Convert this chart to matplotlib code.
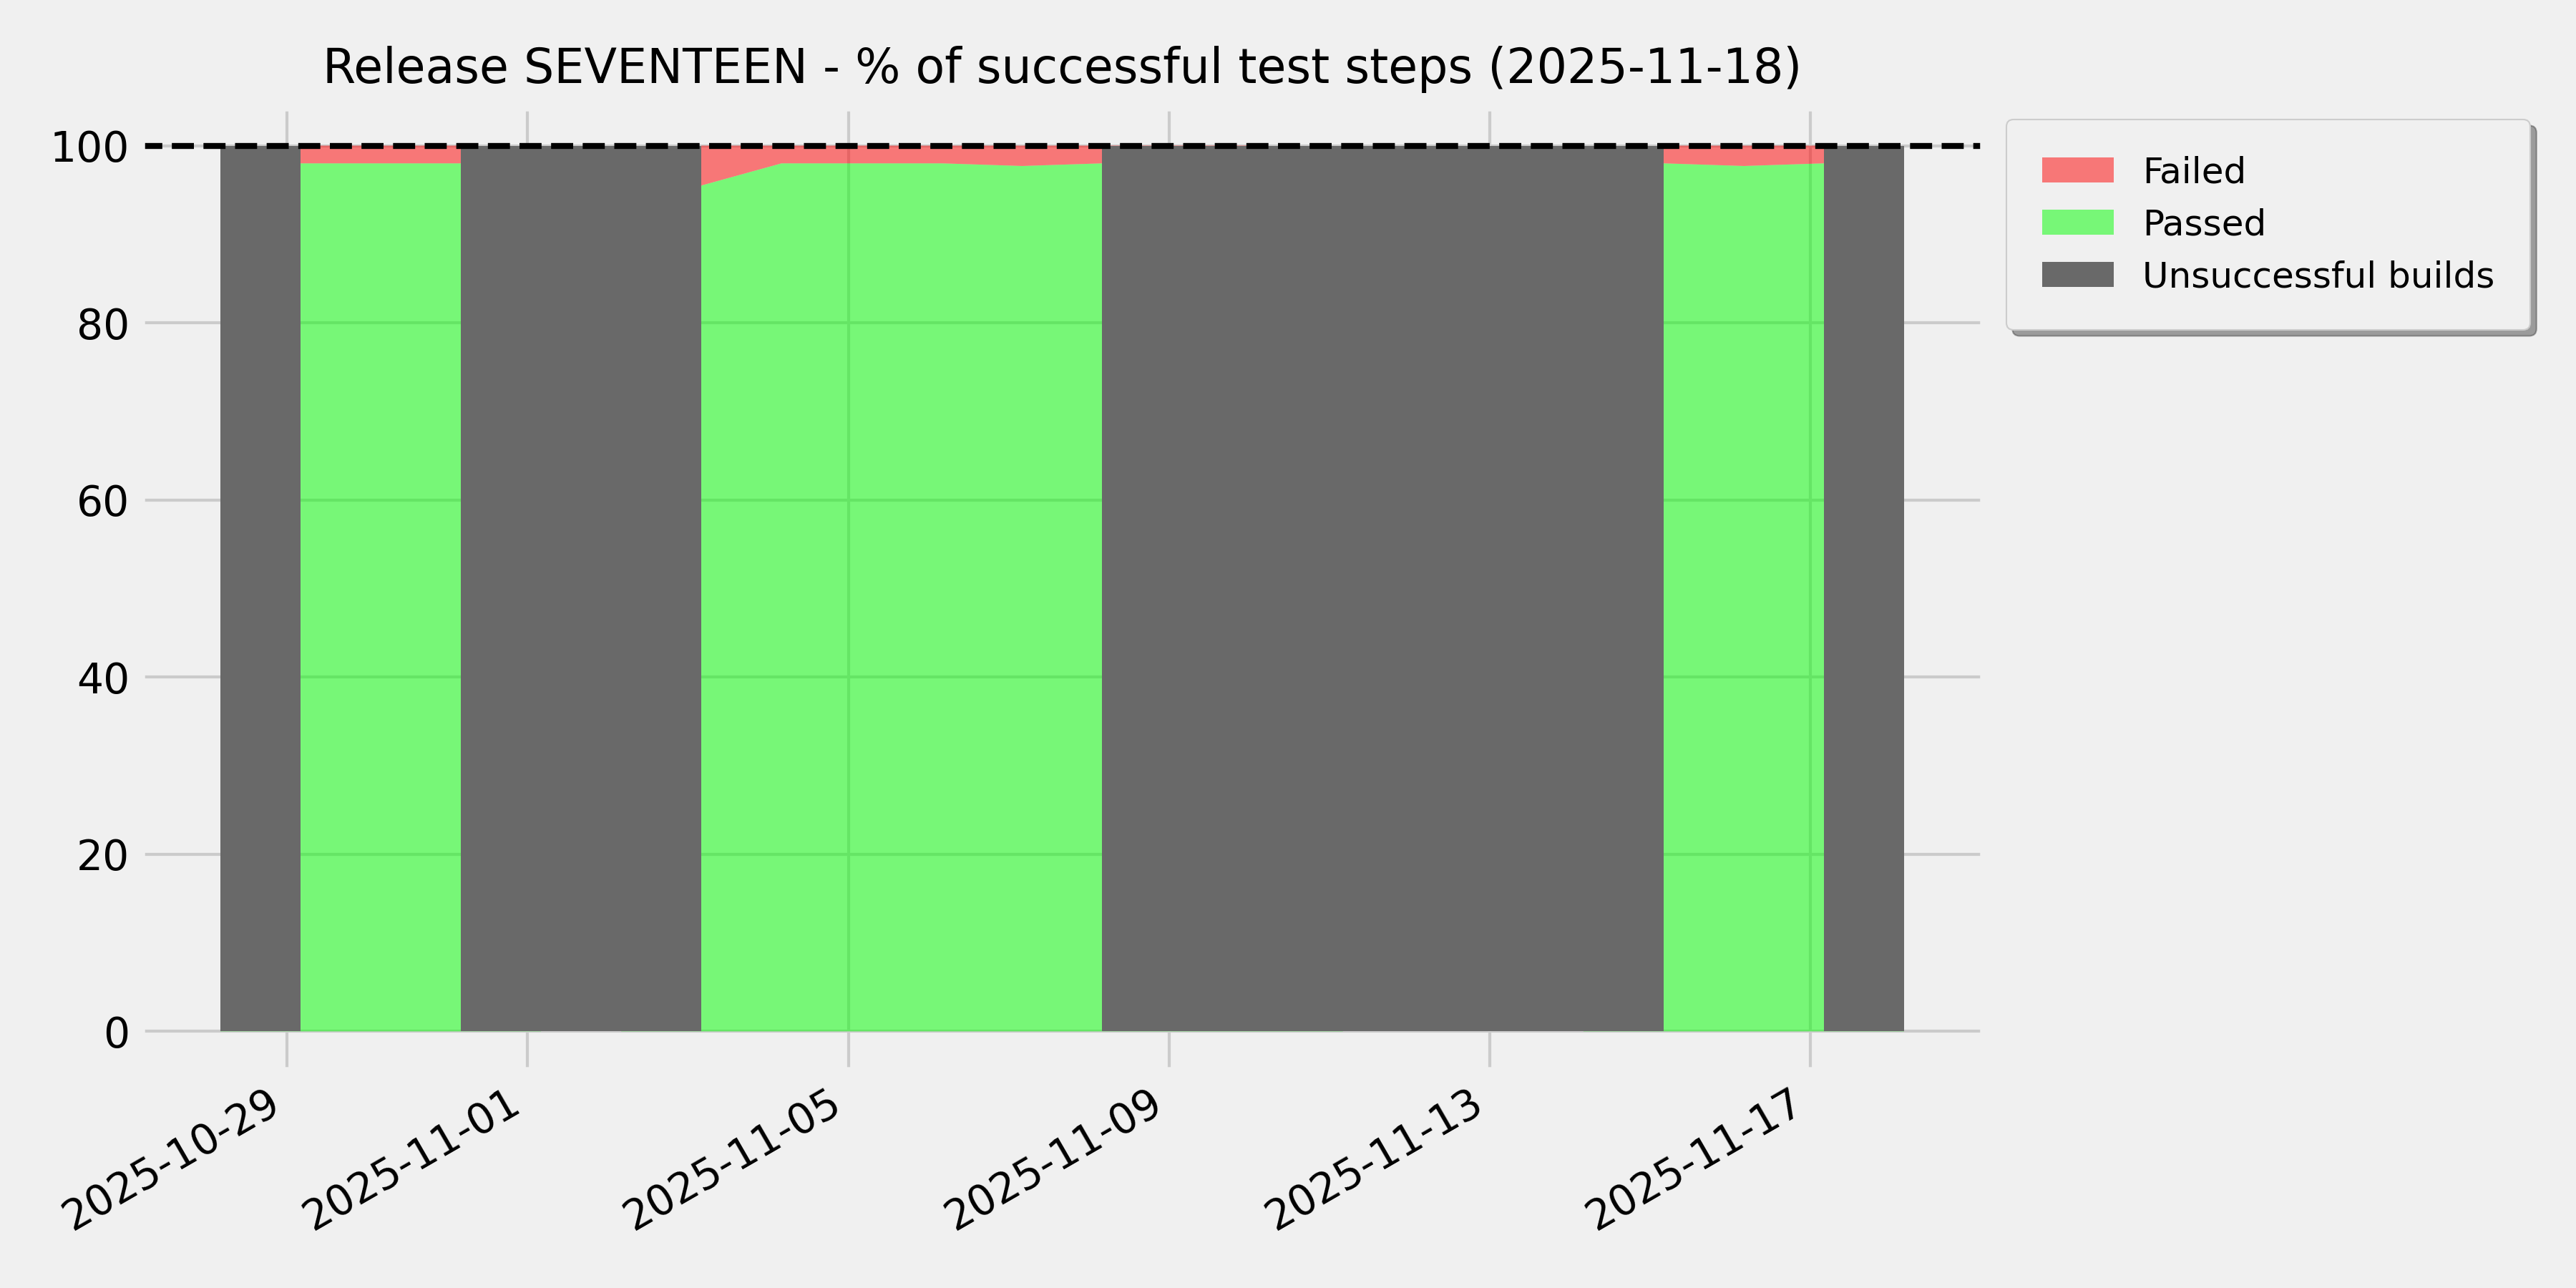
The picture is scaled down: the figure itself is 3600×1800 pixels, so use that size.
import matplotlib
matplotlib.use("Agg")
import matplotlib.pyplot as plt
import matplotlib.dates as mdates
import datetime as dt

plt.style.use("fivethirtyeight")
plt.rcParams["font.family"] = ["DejaVu Sans"]

# ---- data ----
title = "Release SEVENTEEN - % of successful test steps (2025-11-18)"
build_dates = [
    "2025-10-28 04:00", "2025-10-29 04:00", "2025-10-30 04:00", "2025-10-31 04:00",
    "2025-11-01 04:00", "2025-11-02 04:00", "2025-11-03 04:00", "2025-11-04 04:00",
    "2025-11-05 04:00", "2025-11-06 04:00", "2025-11-07 04:00", "2025-11-08 04:00",
    "2025-11-09 04:00", "2025-11-10 04:00", "2025-11-11 04:00", "2025-11-12 04:00",
    "2025-11-13 04:00", "2025-11-14 04:00", "2025-11-15 04:00", "2025-11-16 04:00",
    "2025-11-17 04:00", "2025-11-18 04:00",
]
passed_pct = [0, 98, 98, 98, 0, 0, 95.5, 98, 98, 98, 97.7, 98,
              98, 98, 0, 0, 0, 0, 98, 97.7, 98, 0]
failed_pct = [0, 2, 2, 2, 0, 0, 4.5, 2, 2, 2, 2.3, 2,
              2, 2, 0, 0, 0, 0, 2, 2.3, 2, 0]
unsuccessful_dates = [
    "2025-10-28 04:00", "2025-10-31 04:00", "2025-11-01 04:00", "2025-11-02 04:00",
    "2025-11-08 04:00", "2025-11-09 04:00", "2025-11-10 04:00", "2025-11-11 04:00",
    "2025-11-12 04:00", "2025-11-13 04:00", "2025-11-14 04:00", "2025-11-17 04:00",
]
unsuccessful_height = [100] * len(unsuccessful_dates)
target_pct = 100

fmt = "%Y-%m-%d %H:%M"
x = [dt.datetime.strptime(d, fmt) for d in build_dates]
xu = [dt.datetime.strptime(d, fmt) for d in unsuccessful_dates]

fig, ax = plt.subplots(figsize=(12, 6), dpi=300)

ax.stackplot(x, passed_pct, failed_pct, colors=["lime", "red"], alpha=0.5,
             labels=["Passed", "Failed"])
ax.bar(xu, unsuccessful_height, width=1.0, align="edge", color="dimgray",
       linewidth=0, label="Unsuccessful builds")
ax.axhline(target_pct, color="black", linestyle="--", linewidth=2)

ax.set_xlim(x[0] - dt.timedelta(days=1), x[-1] + dt.timedelta(days=1))
ax.set_ylim(-4.5, 104.4)
ax.xaxis.set_major_locator(mdates.DayLocator(bymonthday=range(1, 32, 4)))
ax.xaxis.set_major_formatter(mdates.DateFormatter("%Y-%m-%d"))
for lbl in ax.get_xticklabels():
    lbl.set_rotation(30)
    lbl.set_ha("right")

ax.set_title(title, loc="center", fontsize=16, pad=8)

handles, labels = ax.get_legend_handles_labels()
hmap = dict(zip(labels, handles))
order = ["Failed", "Passed", "Unsuccessful builds"]
ax.legend([hmap[k] for k in order], order, loc="upper left",
          bbox_to_anchor=(1.012, 0.9866), borderaxespad=0, shadow=True,
          fontsize=12, borderpad=1.0)

fig.subplots_adjust(left=0.0544, right=0.7703, top=0.9172, bottom=0.1683)
fig.savefig("out.png", dpi=300)
